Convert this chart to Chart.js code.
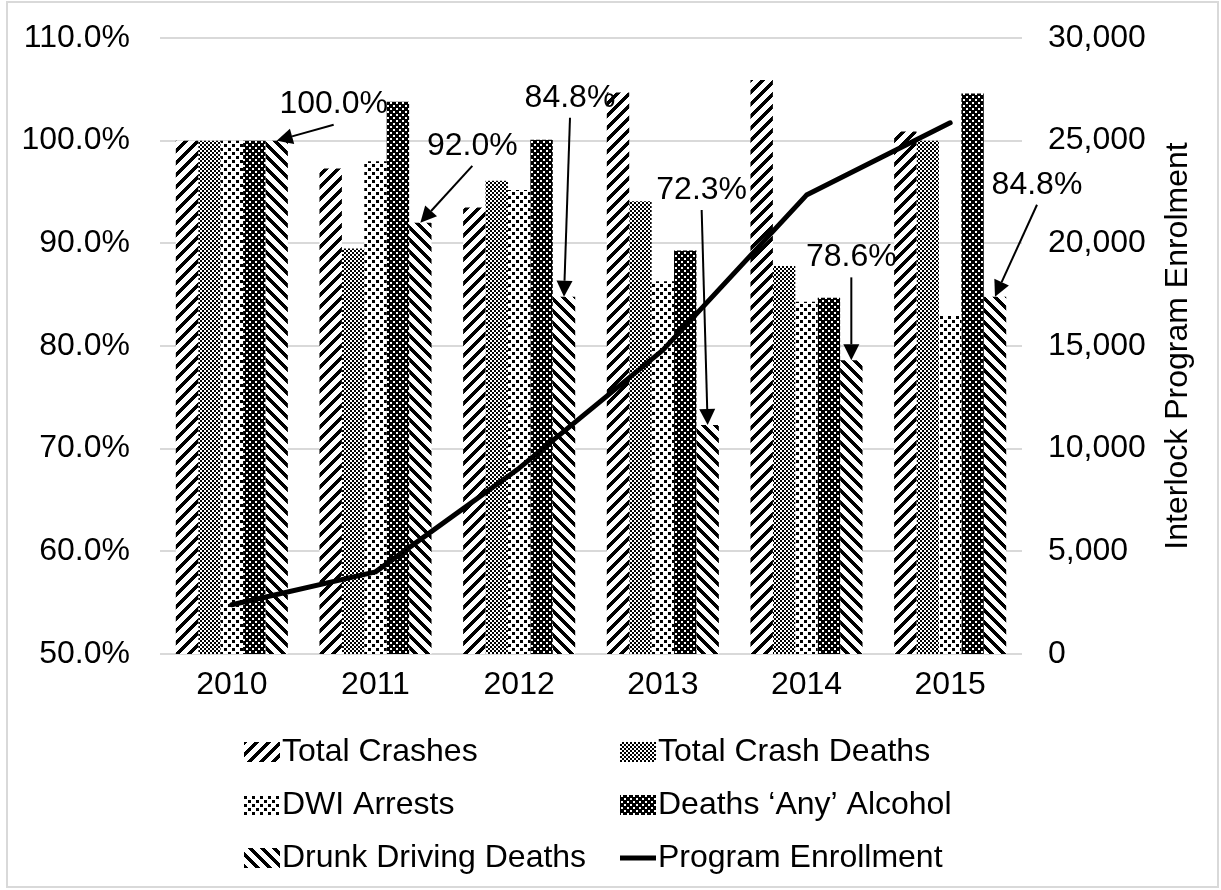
<!DOCTYPE html>
<html>
<head>
<meta charset="utf-8">
<script src="https://cdn.jsdelivr.net/npm/chart.js@4.4.1/dist/chart.umd.min.js"></script>
<style>
  html, body { margin: 0; padding: 0; background: #fff; }
  #wrap { width: 1221px; height: 890px; }
</style>
</head>
<body>
<div id="wrap"><canvas id="chart" width="1221" height="890"></canvas></div>
<script>
// data
const years = ["2010", "2011", "2012", "2013", "2014", "2015"];
const totalCrashes = [100, 97.3, 93.5, 104.7, 105.9, 100.9];
const totalCrashDeaths = [100, 89.5, 96.1, 94.1, 87.8, 100.0];
const dwiArrests = [100, 98.0, 95.2, 86.3, 84.3, 83.0];
const deathsAnyAlcohol = [100, 103.8, 100.1, 89.3, 84.7, 104.6];
const drunkDrivingDeaths = [100, 92.0, 84.8, 72.3, 78.6, 84.8];
const enrollment = [2400, 4000, 9050, 14800, 22350, 25870];

// callouts on the drunk driving bars
const calloutLabels = ["100.0%", "92.0%", "84.8%", "72.3%", "78.6%", "84.8%"];
const calloutOffsets = [[57, -36], [52, -77], [6, -199], [-6, -235], [0, -103], [42, -112]];

const FONT = "'Liberation Sans', Arial, sans-serif";
const canvas = document.getElementById("chart");
const ctx = canvas.getContext("2d");

// pixel patterns, roughly like the excel fills
function makePattern(size, isBlack) {
  const c = document.createElement("canvas");
  c.width = size;
  c.height = size;
  const g = c.getContext("2d");
  const img = g.createImageData(size, size);
  for (let y = 0; y < size; y++) {
    for (let x = 0; x < size; x++) {
      const v = isBlack(x, y, size) ? 0 : 255;
      const k = (y * size + x) * 4;
      img.data[k] = v;
      img.data[k + 1] = v;
      img.data[k + 2] = v;
      img.data[k + 3] = 255;
    }
  }
  g.putImageData(img, 0, 0);
  return ctx.createPattern(c, "repeat");
}

const upDiag = makePattern(12, (x, y, s) => (x + y) % s < 5);
const checker = makePattern(4, (x, y) => (Math.floor(x / 2) + Math.floor(y / 2)) % 2 === 0);
const dots = makePattern(8, (x, y) => (x < 3 && y < 3) || (x >= 4 && x < 7 && y >= 4 && y < 7));
const darkDots = makePattern(6, (x, y) => !((x < 2 && y < 2) || (x >= 3 && x < 5 && y >= 3 && y < 5)));
const downDiag = makePattern(12, (x, y, s) => ((x - y) % s + s) % s < 5);

const extras = {
  id: "extras",
  afterDatasetsDraw(chart) {
    const c = chart.ctx;
    c.save();
    c.font = "32px " + FONT;
    c.fillStyle = "#000";
    c.strokeStyle = "#000";
    c.textAlign = "center";
    c.textBaseline = "middle";

    // callout arrows
    const meta = chart.getDatasetMeta(4);
    meta.data.forEach((el, i) => {
      const tx = el.x;
      const ty = el.y;
      const lx = tx + calloutOffsets[i][0];
      const ly = ty + calloutOffsets[i][1];
      c.fillText(calloutLabels[i], lx, ly);
      const sx = lx;
      const sy = ly + 20;
      const ang = Math.atan2(ty - sy, tx - sx);
      const headLen = 16;
      const bx = tx - headLen * Math.cos(ang);
      const by = ty - headLen * Math.sin(ang);
      c.lineWidth = 2;
      c.beginPath();
      c.moveTo(sx, sy);
      c.lineTo(bx, by);
      c.stroke();
      c.beginPath();
      c.moveTo(tx, ty);
      c.lineTo(bx + 8 * Math.sin(ang), by - 8 * Math.cos(ang));
      c.lineTo(bx - 8 * Math.sin(ang), by + 8 * Math.cos(ang));
      c.closePath();
      c.fill();
    });
    c.restore();
  },
  afterDraw(chart) {
    const c = chart.ctx;
    c.save();
    // outer frame
    c.strokeStyle = "#d9d9d9";
    c.lineWidth = 2;
    c.strokeRect(7, 2, 1211, 885);

    // right axis title, reading upwards
    c.font = "32px " + FONT;
    c.fillStyle = "#000";
    c.textAlign = "center";
    c.textBaseline = "middle";
    c.translate(1178, 346);
    c.rotate(-Math.PI / 2);
    c.fillText("Interlock Program Enrolment", 0, 0);
    c.restore();

    // legend in two columns
    c.save();
    c.font = "32px " + FONT;
    c.fillStyle = "#000";
    c.textBaseline = "middle";
    const colX = [244, 620];
    const rowY = [752, 805, 858];
    chart.data.datasets.forEach((ds, i) => {
      const x = colX[i % 2];
      const y = rowY[Math.floor(i / 2)];
      if (ds.type === "line") {
        c.strokeStyle = "#000";
        c.lineWidth = 5;
        c.beginPath();
        c.moveTo(x, y);
        c.lineTo(x + 36, y);
        c.stroke();
      } else {
        c.fillStyle = ds.backgroundColor;
        c.fillRect(x, y - 10, 36, 20);
      }
      c.fillStyle = "#000";
      c.textAlign = "left";
      c.fillText(ds.label, x + 38, y);
    });
    c.restore();
  },
};

new Chart(ctx, {
  data: {
    labels: years,
    datasets: [
      { type: "bar", label: "Total Crashes", data: totalCrashes, backgroundColor: upDiag, yAxisID: "y", order: 1 },
      { type: "bar", label: "Total Crash Deaths", data: totalCrashDeaths, backgroundColor: checker, yAxisID: "y", order: 1 },
      { type: "bar", label: "DWI Arrests", data: dwiArrests, backgroundColor: dots, yAxisID: "y", order: 1 },
      { type: "bar", label: "Deaths \u2018Any\u2019 Alcohol", data: deathsAnyAlcohol, backgroundColor: darkDots, yAxisID: "y", order: 1 },
      { type: "bar", label: "Drunk Driving Deaths", data: drunkDrivingDeaths, backgroundColor: downDiag, yAxisID: "y", order: 1 },
      {
        type: "line",
        label: "Program Enrollment",
        data: enrollment,
        borderColor: "#000",
        borderWidth: 5,
        borderCapStyle: "round",
        borderJoinStyle: "round",
        pointRadius: 0,
        tension: 0,
        yAxisID: "y2",
        order: 0,
      },
    ],
  },
  options: {
    responsive: false,
    animation: false,
    layout: { padding: { top: 38, left: 0, right: 0, bottom: 0 } },
    datasets: { bar: { categoryPercentage: 0.78, barPercentage: 1 } },
    plugins: { legend: { display: false }, tooltip: { enabled: false } },
    scales: {
      x: {
        grid: { display: false },
        border: { display: false },
        ticks: { color: "#000", font: { family: FONT, size: 32 }, padding: 4 },
        afterFit(scale) { scale.height = 236; },
      },
      y: {
        position: "left",
        min: 50,
        max: 110,
        grid: { color: "#d9d9d9", lineWidth: 2, drawTicks: false },
        border: { display: false },
        ticks: {
          stepSize: 10,
          color: "#000",
          font: { family: FONT, size: 32 },
          padding: 30,
          callback: (v) => v.toFixed(1) + "%",
        },
        afterFit(scale) {
          scale.width = 160;
          scale.paddingTop = 0;
          scale.paddingBottom = 0;
        },
      },
      y2: {
        position: "right",
        min: 0,
        max: 30000,
        grid: { display: false, drawTicks: false },
        border: { display: false },
        ticks: {
          stepSize: 5000,
          color: "#000",
          font: { family: FONT, size: 32 },
          padding: 26,
          callback: (v) => v.toLocaleString("en-US"),
        },
        afterFit(scale) {
          scale.width = 199;
          scale.paddingTop = 0;
          scale.paddingBottom = 0;
        },
      },
    },
  },
  plugins: [extras],
});
</script>
</body>
</html>
